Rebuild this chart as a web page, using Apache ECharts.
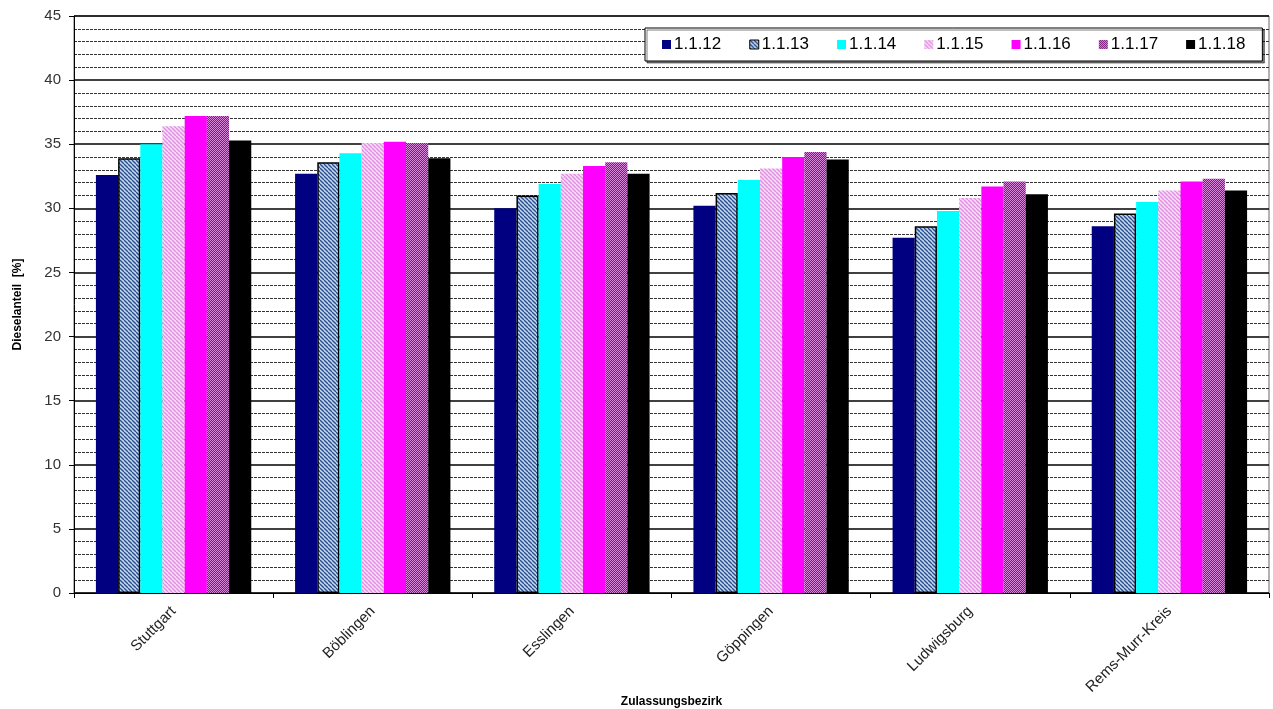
<!DOCTYPE html>
<html><head><meta charset="utf-8">
<script src="https://cdn.jsdelivr.net/npm/echarts@6/dist/echarts.min.js"></script>
<style>html,body{margin:0;padding:0;background:#fff}#c{width:1273px;height:709px}</style>
</head><body><div id="c"></div>
<script>
const categories = ['Stuttgart','Böblingen','Esslingen','Göppingen','Ludwigsburg','Rems-Murr-Kreis'];
const seriesNames = ['1.1.12','1.1.13','1.1.14','1.1.15','1.1.16','1.1.17','1.1.18'];
const v1112 = [32.6, 32.7, 30.0, 30.2, 27.7, 28.6];
const v1113 = [33.9, 33.6, 31.0, 31.2, 28.6, 29.6];
const v1114 = [35.0, 34.3, 31.9, 32.2, 29.8, 30.5];
const v1115 = [36.4, 35.1, 32.7, 33.1, 30.8, 31.4];
const v1116 = [37.2, 35.2, 33.3, 34.0, 31.7, 32.1];
const v1117 = [37.2, 35.1, 33.6, 34.4, 32.1, 32.3];
const v1118 = [35.3, 33.9, 32.7, 33.8, 31.1, 31.4];
const yTicks = [0,5,10,15,20,25,30,35,40,45];

function stripe(bg, fg, size, lw) {
  const c = document.createElement('canvas');
  c.width = size; c.height = size;
  const g = c.getContext('2d');
  g.fillStyle = bg; g.fillRect(0,0,size,size);
  g.strokeStyle = fg; g.lineWidth = lw;
  for (let k = -size; k <= size; k += size) {
    g.beginPath(); g.moveTo(k, 0); g.lineTo(k + size, size); g.stroke();
  }
  return { image: c, repeat: 'repeat' };
}
function dots(bg, fg) {
  const c = document.createElement('canvas');
  c.width = 2; c.height = 2;
  const g = c.getContext('2d');
  g.fillStyle = bg; g.fillRect(0,0,2,2);
  g.fillStyle = fg; g.fillRect(0,0,1,1); g.fillRect(1,1,1,1);
  return { image: c, repeat: 'repeat' };
}

const fills = [
  '#000080',
  stripe('#c0d8f0', '#2a4a8a', 4, 1.3),
  '#00ffff',
  stripe('#f8dcf8', '#e090e0', 4, 1.4),
  '#ff00ff',
  dots('#7a1a7a', '#d888d8'),
  '#000000'
];
const borders = [null, '#000', null, null, null, null, null];
const values = [v1112, v1113, v1114, v1115, v1116, v1117, v1118];

const chart = echarts.init(document.getElementById('c'), null, {renderer:'canvas'});
const series = seriesNames.map((n, i) => ({
  name: n,
  type: 'bar',
  data: values[i],
  barGap: '0%',
  barCategoryGap: '22%',
  itemStyle: {
    color: fills[i],
    borderColor: borders[i] || 'transparent',
    borderWidth: borders[i] ? 1.5 : 0
  },
  emphasis: { disabled: true }
}));

chart.setOption({
  animation: false,
  textStyle: { fontFamily: 'Arial, "Liberation Sans", sans-serif' },
  grid: { left: 74, right: 4, top: 16, bottom: 116, containLabel: false, outerBoundsMode: 'none', show: true, borderColor: '#666', borderWidth: 1, backgroundColor: '#fff' },
  legend: {
    data: seriesNames.map((n, i) => ({ name: n, itemStyle: { color: fills[i], borderColor: '#000', borderWidth: i === 1 ? 1 : 0 } })),
    left: 645, top: 28,
    backgroundColor: '#fff',
    borderColor: '#000', borderWidth: 1,
    shadowColor: 'rgba(0,0,0,0.5)', shadowOffsetX: 2, shadowOffsetY: 2, shadowBlur: 0,
    padding: [8, 17, 8, 17],
    itemWidth: 9, itemHeight: 9, itemGap: 28,
    icon: 'rect',
    textStyle: { fontSize: 17, color: '#000', padding: [0,0,0,-2] }
  },
  xAxis: {
    type: 'category',
    data: categories,
    name: 'Zulassungsbezirk',
    nameLocation: 'middle',
    nameGap: 103,
    nameMoveOverlap: false,
    nameTextStyle: { fontWeight: 'bold', fontSize: 12, color: '#000' },
    axisLine: { lineStyle: { color: '#000', width: 1 } },
    axisTick: { show: true, length: 5, lineStyle: { color: '#000' } },
    axisLabel: { rotate: 45, fontSize: 15, color: '#222', margin: 16 }
  },
  yAxis: {
    type: 'value',
    min: 0, max: 45, interval: 5,
    name: 'Dieselanteil  [%]',
    nameLocation: 'middle',
    nameGap: 50,
    nameMoveOverlap: false,
    nameTextStyle: { fontWeight: 'bold', fontSize: 12, color: '#000' },
    axisLine: { show: true, lineStyle: { color: '#000' } },
    axisTick: { show: true, length: 5, lineStyle: { color: '#000' } },
    axisLabel: { fontSize: 15, color: '#333', margin: 13, formatter: v => yTicks.includes(v) ? String(v) : '' },
    splitLine: { lineStyle: { color: '#000', width: 1.5 } },
    minorTick: { show: false, splitNumber: 5 },
    minorSplitLine: { show: true, lineStyle: { color: '#333', width: 1, type: [3, 1] } }
  },
  series: series
});
</script></body></html>
